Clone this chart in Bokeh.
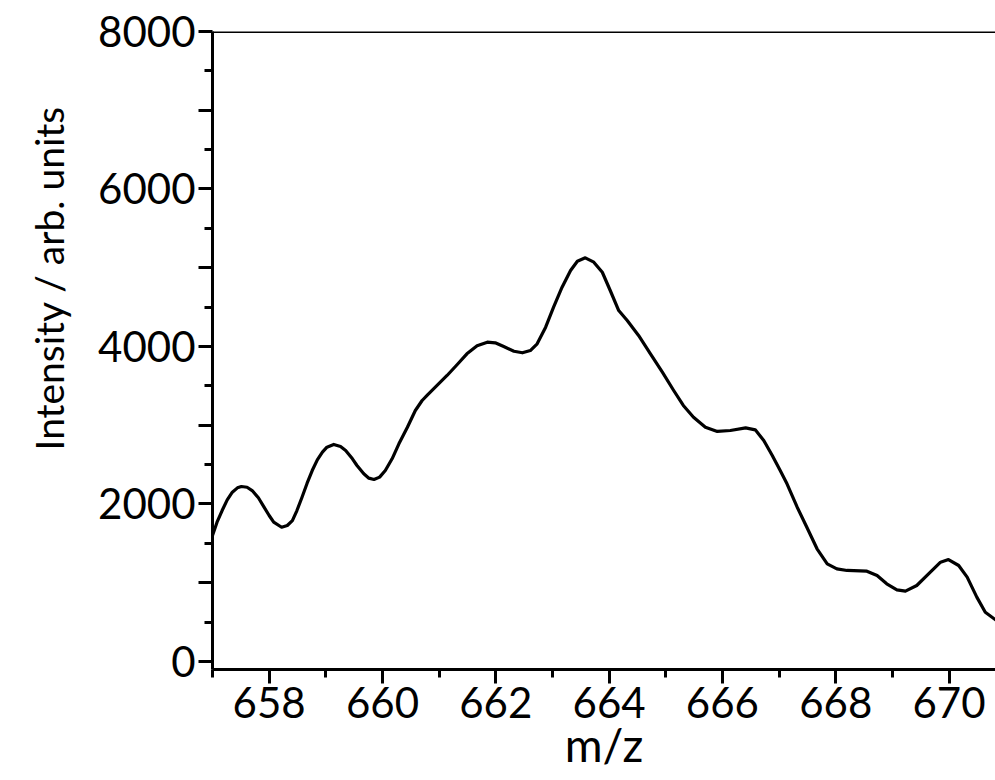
from bokeh.plotting import figure
from bokeh.models import Range1d, FixedTicker, Span, Title
from bokeh.embed import file_html
from bokeh.resources import INLINE

# m/z values and intensities
mz = [657.00, 657.08, 657.17, 657.26, 657.35, 657.44, 657.51, 657.61, 657.70,
      657.81, 657.91, 658.00, 658.08, 658.22, 658.32, 658.41, 658.49, 658.58,
      658.67, 658.76, 658.85, 658.94, 659.02, 659.14, 659.26, 659.35, 659.47,
      659.55, 659.67, 659.76, 659.85, 659.95, 660.05, 660.17, 660.29, 660.44,
      660.58, 660.70, 660.80, 661.14, 661.32, 661.49, 661.67, 661.85, 661.99,
      662.14, 662.32, 662.47, 662.61, 662.73, 662.88, 663.02, 663.17, 663.32,
      663.44, 663.58, 663.73, 663.88, 664.02, 664.17, 664.32, 664.52, 664.73,
      664.94, 665.14, 665.31, 665.49, 665.70, 665.91, 666.14, 666.41, 666.58,
      666.73, 666.88, 667.02, 667.14, 667.32, 667.49, 667.67, 667.85, 668.02,
      668.20, 668.55, 668.73, 668.90, 669.08, 669.23, 669.43, 669.67, 669.85,
      669.99, 670.17, 670.32, 670.49, 670.64, 670.82]
intensity = [1600, 1769, 1917, 2053, 2150, 2205, 2222, 2213, 2171,
             2079, 1960, 1854, 1769, 1705, 1727, 1790, 1917, 2086,
             2264, 2425, 2561, 2658, 2722, 2756, 2730, 2679, 2574,
             2489, 2383, 2328, 2311, 2341, 2425, 2574, 2764, 2975,
             3187, 3314, 3390, 3632, 3771, 3907, 4009, 4055, 4047,
             4000, 3940, 3920, 3949, 4034, 4245, 4499, 4753, 4965,
             5083, 5126, 5071, 4943, 4711, 4457, 4330, 4140, 3907,
             3674, 3441, 3251, 3102, 2975, 2921, 2933, 2967, 2942,
             2806, 2616, 2425, 2256, 1959, 1705, 1431, 1240, 1177,
             1156, 1147, 1092, 987, 910, 893, 965, 1134, 1261,
             1295, 1219, 1071, 817, 626, 530]

x_major = [658, 660, 662, 664, 666, 668, 670]
x_minor = [657, 659, 661, 663, 665, 667, 669, 671]
y_major = [0, 1000, 2000, 3000, 4000, 5000, 6000, 7000, 8000]
y_minor = [500, 1500, 2500, 3500, 4500, 5500, 6500, 7500]
y_labels = {0: "0", 1000: "", 2000: "2000", 3000: "", 4000: "4000",
            5000: "", 6000: "6000", 7000: "", 8000: "8000"}
x_title = "m/z"
y_title = "Intensity / arb. units"

FONT = "Lato"

p = figure(width=995, height=780, output_backend="svg", toolbar_location=None,
           x_range=Range1d(657, 670.82), y_range=Range1d(-101.6, 8000),
           min_border_left=212, min_border_right=0, min_border_top=31,
           min_border_bottom=111)
p.background_fill_color = "white"
p.border_fill_color = "white"
p.outline_line_color = None
p.xgrid.visible = False
p.ygrid.visible = False

p.line(mz, intensity, line_color="black", line_width=3.2,
       line_join="round", line_cap="round")

p.add_layout(Span(location=8000, dimension="width", line_color="black",
                  line_width=3))

for ax in (p.xaxis[0], p.yaxis[0]):
    ax.axis_line_width = 3
    ax.axis_line_color = "black"
    ax.major_tick_line_width = 3
    ax.minor_tick_line_width = 3
    ax.major_tick_line_color = "black"
    ax.minor_tick_line_color = "black"
    ax.major_tick_in = 0
    ax.minor_tick_in = 0
    ax.major_tick_out = 14
    ax.minor_tick_out = 8
    ax.major_label_text_font = FONT
    ax.major_label_text_font_size = "42px"
    ax.major_label_text_color = "black"

p.xaxis[0].ticker = FixedTicker(ticks=x_major, minor_ticks=x_minor)
p.yaxis[0].ticker = FixedTicker(ticks=y_major, minor_ticks=y_minor)
p.yaxis[0].major_label_overrides = y_labels
p.xaxis[0].major_label_standoff = 3
p.yaxis[0].major_label_standoff = 3

p.xaxis[0].axis_label = x_title
p.xaxis[0].axis_label_text_font = FONT
p.xaxis[0].axis_label_text_font_size = "46px"
p.xaxis[0].axis_label_text_font_style = "normal"
p.xaxis[0].axis_label_text_color = "black"
p.xaxis[0].axis_label_standoff = -4

p.add_layout(Title(text=y_title, align="left", offset=219, standoff=47,
                   text_font=FONT, text_font_size="39px",
                   text_font_style="normal", text_color="black"), "left")

open("out.html", "w").write(file_html(p, INLINE))
